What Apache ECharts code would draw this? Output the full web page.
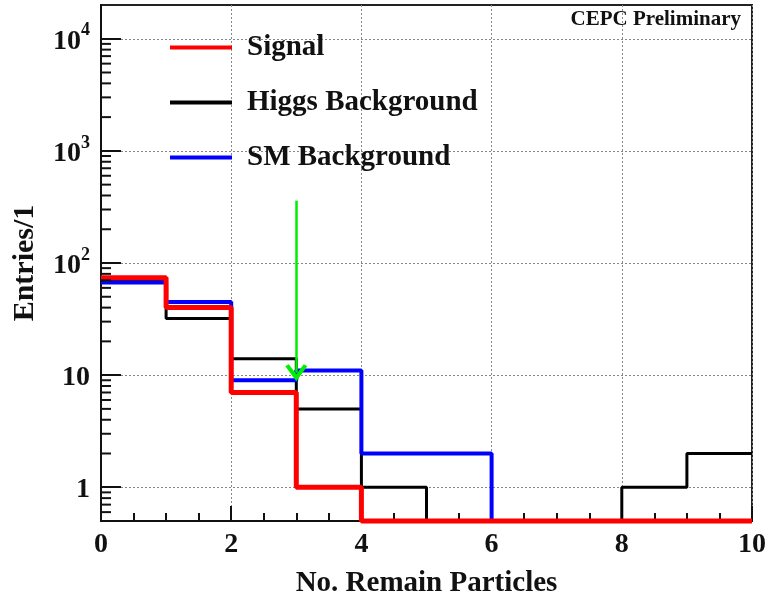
<!DOCTYPE html>
<html>
<head>
<meta charset="utf-8">
<script src="https://cdn.jsdelivr.net/npm/echarts@6/dist/echarts.min.js"></script>
<style>
html,body{margin:0;padding:0;background:#fff;}
#chart{width:768px;height:600px;}
</style>
</head>
<body>
<div id="chart"></div>
<script>
// Bin edges (lower edges) of the histogram, 1 unit wide
var binEdges = [0, 1, 2, 3, 4, 5, 6, 7, 8, 9, 10];
// Entries per bin (0 = empty bin)
var signalValues = [74, 40, 7, 1, 0, 0, 0, 0, 0, 0];
var higgsValues  = [71, 32, 14, 5, 1, 0, 0, 0, 1, 2];
var smValues     = [67, 45, 9, 11, 2, 2, 0, 0, 0, 0];
var seriesNames = ['Signal', 'Higgs Background', 'SM Background'];
// Cut arrow
var cutX = 3;
var cutTop = 360;
var cutBottom = 10.5;
// Y range (entries) and tick values
var yMin = 0.5, yMax = 20000;
var xTicks = [0, 2, 4, 6, 8, 10];
var yDecades = [1, 10, 100, 1000, 10000];
var yMinorMultipliers = [2, 3, 4, 5, 6, 7, 8, 9];

var FONT = 'Liberation Serif';
var L = function (v) { return Math.log(v) / Math.LN10; };

// Logarithmic y: the value axis works in log10(entries)
var yMajorTicks = yDecades.map(L);
var yMinorTicks = [0.6, 0.7, 0.8, 0.9].map(L);
yDecades.forEach(function (d) {
  yMinorMultipliers.forEach(function (m) {
    var v = d * m;
    if (v < yMax) yMinorTicks.push(L(v));
  });
});

function stepData(vals) {
  var out = [];
  for (var i = 0; i < vals.length; i++) {
    out.push([binEdges[i], L(vals[i] > 0 ? vals[i] : yMin)]);
  }
  var last = vals[vals.length - 1];
  out.push([binEdges[vals.length], L(last > 0 ? last : yMin)]);
  return out;
}

function histSeries(name, vals, color, width) {
  return {
    name: name,
    type: 'line',
    step: 'end',
    symbol: 'none',
    clip: false,
    data: stepData(vals),
    lineStyle: { color: color, width: width },
    itemStyle: { color: color },
    emphasis: { disabled: true },
    animation: false
  };
}

var chart = echarts.init(document.getElementById('chart'));
chart.setOption({
  animation: false,
  backgroundColor: '#fff',
  title: {
    text: 'CEPC Preliminary',
    right: 27, top: 9, padding: 0,
    textStyle: { fontFamily: FONT, fontWeight: 'bold', fontSize: 21, color: '#111' }
  },
  legend: {
    data: seriesNames,
    orient: 'vertical',
    left: 170, top: 33, padding: 0,
    icon: 'rect',
    itemWidth: 62, itemHeight: 4,
    itemGap: 26,
    selectedMode: false,
    textStyle: { fontFamily: FONT, fontWeight: 'bold', fontSize: 29, lineHeight: 29, color: '#111', padding: [0, 0, 0, 10] }
  },
  grid: {
    left: 101, right: 16, top: 5, bottom: 79,
    containLabel: false, outerBoundsMode: 'none',
    show: true, borderColor: '#222', borderWidth: 2, backgroundColor: 'transparent'
  },
  xAxis: {
    type: 'value', min: 0, max: 10, interval: 2,
    name: 'No. Remain Particles', nameLocation: 'middle', nameGap: 48,
    nameTextStyle: { fontFamily: FONT, fontWeight: 'bold', fontSize: 29, color: '#111' },
    axisLine: { show: true, onZero: false, lineStyle: { color: '#111', width: 2 } },
    axisTick: { show: true, inside: true, length: 15, lineStyle: { color: '#111', width: 2 } },
    minorTick: { show: true, splitNumber: 4, length: 8, lineStyle: { color: '#111', width: 2 } },
    axisLabel: { fontFamily: FONT, fontWeight: 'bold', fontSize: 28, color: '#111', margin: 10,
      formatter: function (v) { return xTicks.indexOf(v) >= 0 ? String(v) : ''; } },
    splitLine: { show: true, lineStyle: { color: '#888', width: 1, type: [2, 2] } }
  },
  yAxis: {
    type: 'value', min: L(yMin), max: L(yMax),
    name: 'Entries/1', nameLocation: 'middle', nameGap: 61,
    nameTextStyle: { fontFamily: FONT, fontWeight: 'bold', fontSize: 30, color: '#111' },
    axisLine: { show: true, onZero: false, lineStyle: { color: '#111', width: 2 } },
    axisTick: { show: true, inside: true, length: 20, customValues: yMajorTicks, lineStyle: { color: '#111', width: 2 } },
    minorTick: { show: false },
    axisLabel: {
      margin: 11,
      customValues: yMajorTicks,
      fontFamily: FONT, fontWeight: 'bold', fontSize: 28, color: '#111',
      formatter: function (v) {
        var r = Math.round(v);
        if (r === 0) return '{b|1}';
        if (r === 1) return '{b|10}';
        return '{b|10}{s|' + r + '}';
      },
      rich: {
        b: { fontFamily: FONT, fontWeight: 'bold', fontSize: 28, color: '#111', lineHeight: 34, verticalAlign: 'bottom' },
        s: { fontFamily: FONT, fontWeight: 'bold', fontSize: 18, color: '#111', lineHeight: 34, verticalAlign: 'top' }
      }
    },
    splitLine: { show: true, lineStyle: { color: '#888', width: 1, type: [2, 2] } }
  },
  series: [
    {
      // logarithmic minor ticks of the y axis, placed through the axis scale
      name: 'yMinorTicks', type: 'scatter', silent: true, clip: false, z: 5,
      data: yMinorTicks.map(function (v) { return [0, v]; }),
      symbol: 'rect', symbolSize: [10, 2], symbolOffset: [5, 0],
      itemStyle: { color: '#111', opacity: 1 },
      emphasis: { disabled: true },
      animation: false
    },
    histSeries('Higgs Background', higgsValues, '#000000', 3),
    histSeries('SM Background', smValues, '#0000ff', 4),
    histSeries('Signal', signalValues, '#ff0000', 5),
    {
      name: 'cut', type: 'line', data: [], silent: true,
      markLine: {
        silent: true, animation: false,
        symbol: ['none', 'path://M11,0 L22,15 L18.5,17 L11,7 L3.5,17 L0,15 Z'],
        symbolSize: [22, 17],
        label: { show: false },
        lineStyle: { color: '#00ee00', width: 2.5, type: 'solid' },
        emphasis: { disabled: true },
        data: [[{ coord: [cutX, L(cutTop)] }, { coord: [cutX, L(cutBottom)] }]]
      }
    }
  ]
});
</script>
</body>
</html>
